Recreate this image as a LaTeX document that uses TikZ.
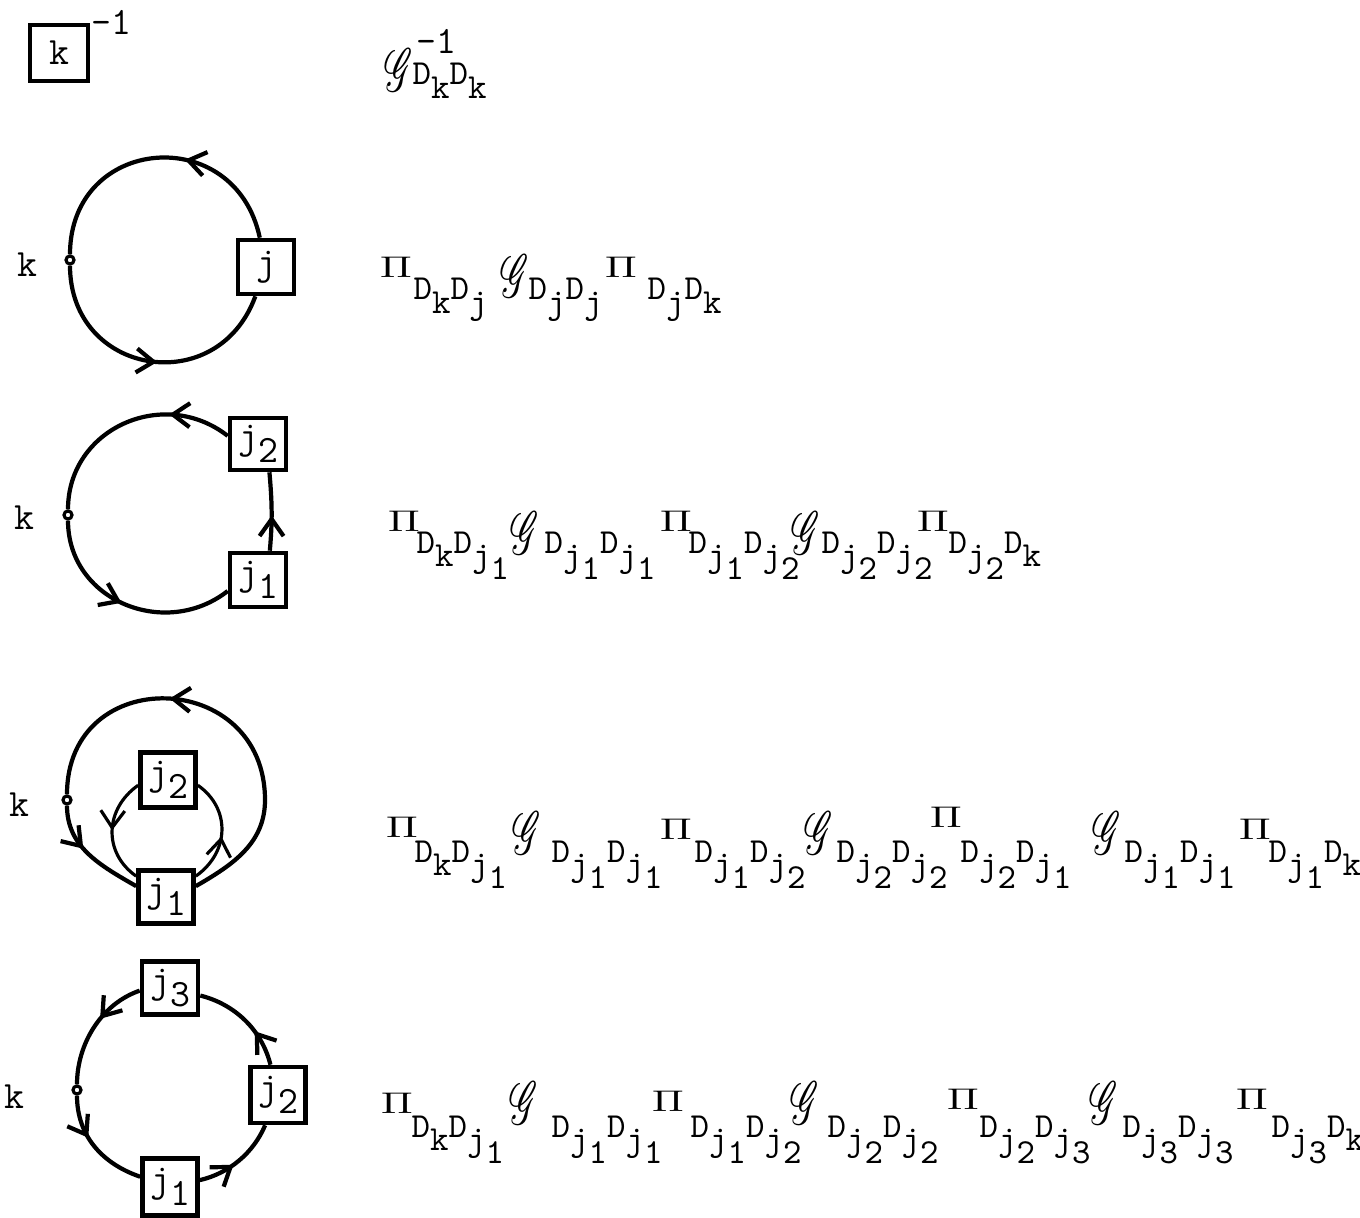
\documentclass[tikz,border=0pt]{standalone}
\usepackage{mathrsfs}
\usepackage{graphicx}
\usetikzlibrary{arrows.meta, decorations.markings}

\newcommand{\dn}[1]{\raisebox{-3.8pt}{#1}}
\newcommand{\Pis}{\scalebox{1.2}[0.85]{$\Pi$}}
\newcommand{\Gs}{\scalebox{0.6}[1]{$\mathscr{G}$}}

\begin{document}
\begin{tikzpicture}[
  x=0.01cm, y=0.01cm,
  font=\ttfamily\fontsize{10}{12}\selectfont,
  vertex/.style={draw, line width=1.3pt, fill=white, minimum width=0.56cm, minimum height=0.54cm, inner sep=0pt, font=\ttfamily\fontsize{11}{13}\selectfont},
  knot/.style={circle, draw, fill=white, line width=0.9pt, minimum size=0.08cm, inner sep=0pt},
  ring/.style={line width=1.2pt},
  inner/.style={line width=0.9pt},
  flow/.style={postaction={decorate, decoration={markings, mark=at position #1 with {\arrow{Straight Barb[length=1.7mm, width=2.4mm]}}}}},
  lab/.style={inner sep=0pt, font=\ttfamily\fontsize{11}{13}\selectfont},
  pisym/.style={inner sep=0pt},
  gsym/.style={inner sep=0pt, font=\fontsize{18}{18}\selectfont},
  subs/.style={anchor=base west, inner sep=0pt},
]
\useasboundingbox (0,0) rectangle (1360,1217);

% ---- row 1: inverse of a single vertex
\node[vertex, minimum width=0.58cm, minimum height=0.56cm] (b1) at (59,1164) {k};
\node[lab] (e1) at (111,1195) {-1};
\node[gsym] (g10) at (399,1147) {\Gs};
\node[lab] (e10) at (436,1176) {-1};
\node[subs] (s10) at (412,1132) {D\dn{k}D\dn{k}};

% ---- row 2: one vertex j on the ring
\node[lab] (kl2) at (27,952) {k};
\node[knot] (v2) at (70,957) {};
\node[vertex] (r2j) at (266,950) {j};
\draw[ring, flow=0.53] (v2) to[out=-90, in=250, looseness=1.5] (r2j);
\draw[ring, flow=0.40] (r2j) to[out=102, in=90, looseness=1.6] (v2);

\node[pisym] (p21) at (396,950) {\Pis};
\node[subs]  (s21) at (413,917) {D\dn{k}D\dn{j}};
\node[gsym]  (g21) at (515,941) {\Gs};
\node[subs]  (s22) at (528,917) {D\dn{j}D\dn{j}};
\node[pisym] (p22) at (621,950) {\Pis};
\node[subs]  (s23) at (647,917) {D\dn{j}D\dn{k}};

% ---- row 3: two vertices in a chain
\node[lab] (kl3) at (24,699) {k};
\node[knot] (v3) at (68,702) {};
\node[vertex, minimum height=0.52cm] (r3j2) at (258,773) {j\dn{2}};
\node[vertex] (r3j1) at (258,637) {j\dn{1}};
\draw[ring, flow=0.48] (v3) to[out=-90, in=218, looseness=1.17] (r3j1.200);
\draw[ring, flow=0.45] (r3j1.68) to[out=85, in=-85] (r3j2.-68);
\draw[ring, flow=0.29] (r3j2.165) to[out=142, in=90, looseness=1.18] (v3);

\node[pisym] (p31) at (404,696) {\Pis};
\node[subs]  (s31) at (416,664) {D\dn{k}D\dn{j\dn{1}}};
\node[gsym]  (g31) at (525,684) {\Gs};
\node[subs]  (s32) at (544,664) {D\dn{j\dn{1}}D\dn{j\dn{1}}};
\node[pisym] (p32) at (676,696) {\Pis};
\node[subs]  (s33) at (688,664) {D\dn{j\dn{1}}D\dn{j\dn{2}}};
\node[gsym]  (g32) at (806,684) {\Gs};
\node[subs]  (s34) at (821,664) {D\dn{j\dn{2}}D\dn{j\dn{2}}};
\node[pisym] (p33) at (933,696) {\Pis};
\node[subs]  (s35) at (948,664) {D\dn{j\dn{2}}D\dn{k}};

% ---- row 4: inner loop between j1 and j2
\node[lab] (kl4) at (19,412) {k};
\node[knot] (v4) at (67,417) {};
\node[vertex, minimum width=0.55cm, minimum height=0.55cm] (r4j2) at (168,437) {j\dn{2}};
\node[vertex, minimum width=0.55cm, minimum height=0.53cm] (r4j1) at (166,320) {j\dn{1}};
\coordinate (o4) at (265,417);
\draw[ring, flow=0.42] (v4) to[out=-90, in=150, looseness=1.0] (r4j1.160);
\draw[ring, flow=0.63] (r4j1.20) to[out=30, in=-90, looseness=1.0] (o4)
  to[out=90, in=90, looseness=1.7] (v4);
\draw[inner, flow=0.5] (r4j2.190) to[out=215, in=145, looseness=1.15] (r4j1);
\draw[inner, flow=0.45] (r4j1) to[out=35, in=-35, looseness=1.15] (r4j2.-10);

\node[pisym] (p41) at (402,390) {\Pis};
\node[subs]  (s41) at (414,355) {D\dn{k}D\dn{j\dn{1}}};
\node[gsym]  (g41) at (527,384) {\Gs};
\node[subs]  (s42) at (551,355) {D\dn{j\dn{1}}D\dn{j\dn{1}}};
\node[pisym] (p42) at (676,388) {\Pis};
\node[subs]  (s43) at (694,355) {D\dn{j\dn{1}}D\dn{j\dn{2}}};
\node[gsym]  (g42) at (819,384) {\Gs};
\node[subs]  (s44) at (836,355) {D\dn{j\dn{2}}D\dn{j\dn{2}}};
\node[pisym] (p43) at (946,400) {\Pis};
\node[subs]  (s45) at (960,355) {D\dn{j\dn{2}}D\dn{j\dn{1}}};
\node[gsym]  (g43) at (1107,384) {\Gs};
\node[subs]  (s46) at (1124,355) {D\dn{j\dn{1}}D\dn{j\dn{1}}};
\node[pisym] (p44) at (1255,388) {\Pis};
\node[subs]  (s47) at (1268,355) {D\dn{j\dn{1}}D\dn{k}};

% ---- row 5: three vertices round the ring
\node[lab] (kl5) at (14,120) {k};
\node[knot] (v5) at (77,127) {};
\node[vertex, minimum height=0.53cm] (r5j3) at (170,229) {j\dn{3}};
\node[vertex, minimum width=0.55cm, minimum height=0.56cm] (r5j2) at (278,122) {j\dn{2}};
\node[vertex, minimum width=0.55cm, minimum height=0.57cm] (r5j1) at (170,30) {j\dn{1}};
\draw[ring, flow=0.40] (v5) to[out=-90, in=161, looseness=1.0] (r5j1);
\draw[ring, flow=0.42] (r5j1) to[out=13, in=247, looseness=0.9] (r5j2);
\draw[ring, flow=0.36] (r5j2) to[out=104, in=-14, looseness=0.93] (r5j3);
\draw[ring, flow=0.41] (r5j3.185) to[out=199, in=90, looseness=0.92] (v5);

\node[pisym] (p51) at (397,114) {\Pis};
\node[subs]  (s51) at (411,80) {D\dn{k}D\dn{j\dn{1}}};
\node[gsym]  (g51) at (524,114) {\Gs};
\node[subs]  (s52) at (551,80) {D\dn{j\dn{1}}D\dn{j\dn{1}}};
\node[pisym] (p52) at (668,116) {\Pis};
\node[subs]  (s53) at (690,80) {D\dn{j\dn{1}}D\dn{j\dn{2}}};
\node[gsym]  (g52) at (805,114) {\Gs};
\node[subs]  (s54) at (827,80) {D\dn{j\dn{2}}D\dn{j\dn{2}}};
\node[pisym] (p53) at (963,118) {\Pis};
\node[subs]  (s55) at (979,80) {D\dn{j\dn{2}}D\dn{j\dn{3}}};
\node[gsym]  (g53) at (1104,114) {\Gs};
\node[subs]  (s56) at (1122,80) {D\dn{j\dn{3}}D\dn{j\dn{3}}};
\node[pisym] (p54) at (1252,118) {\Pis};
\node[subs]  (s57) at (1271,80) {D\dn{j\dn{3}}D\dn{k}};

\end{tikzpicture}
\end{document}
